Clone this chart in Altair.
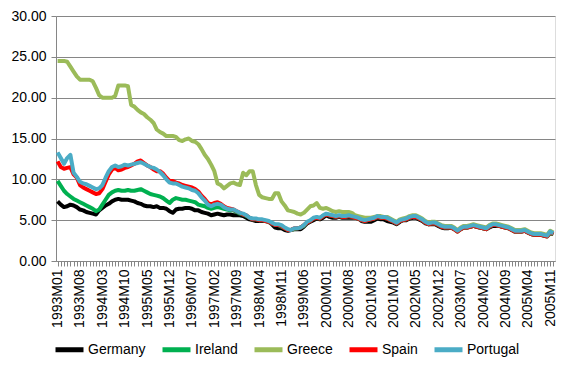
import altair as alt
import pandas as pd

months = [f"{y}M{m:02d}" for y in range(1993, 2006) for m in range(1, 13)]

germany = [
    7.3, 6.9, 6.6, 6.7, 6.9, 6.8, 6.6, 6.3, 6.2, 6.0, 5.9, 5.8,
    5.7, 6.2, 6.5, 6.8, 7.0, 7.3, 7.5, 7.6, 7.5, 7.5, 7.5, 7.4,
    7.3, 7.1, 7.0, 6.8, 6.7, 6.7, 6.6, 6.7, 6.5, 6.5, 6.4, 6.1,
    5.9, 6.3, 6.4, 6.4, 6.5, 6.5, 6.4, 6.2, 6.2, 6.0, 5.9, 5.8,
    5.6, 5.7, 5.8, 5.7, 5.6, 5.7, 5.7, 5.6, 5.6, 5.6, 5.5, 5.3,
    5.1, 5.0, 4.9, 4.9, 4.9, 4.9, 4.8, 4.5, 4.1, 4.0, 4.0, 3.8,
    3.7, 3.8, 3.9, 3.9, 3.9, 4.2, 4.6, 4.8, 5.0, 5.2, 5.1, 5.3,
    5.6, 5.4, 5.3, 5.3, 5.4, 5.3, 5.3, 5.3, 5.3, 5.3, 5.2, 4.9,
    4.8, 4.8, 4.8, 5.0, 5.2, 5.1, 5.1, 4.9, 4.8, 4.7, 4.5, 4.8,
    5.0, 5.0, 5.2, 5.3, 5.3, 5.1, 4.9, 4.6, 4.5, 4.5, 4.5, 4.3,
    4.1, 4.0, 4.0, 4.1, 3.9, 3.7, 3.9, 4.1, 4.1, 4.2, 4.3, 4.2,
    4.1, 4.0, 3.9, 4.1, 4.3, 4.3, 4.3, 4.2, 4.1, 4.0, 3.8, 3.6,
    3.6, 3.6, 3.7, 3.5, 3.3, 3.2, 3.2, 3.2, 3.1, 3.1, 3.4, 3.3,
]
ireland = [
    9.8, 9.2, 8.6, 8.2, 7.9, 7.6, 7.4, 7.2, 7.0, 6.8, 6.6, 6.4,
    6.1, 6.3, 6.9, 7.5, 8.1, 8.4, 8.6, 8.7, 8.6, 8.6, 8.7, 8.6,
    8.6, 8.7, 8.8, 8.6, 8.4, 8.2, 8.1, 8.0, 7.9, 7.7, 7.4, 7.1,
    7.5, 7.7, 7.6, 7.5, 7.5, 7.4, 7.3, 7.2, 6.9, 6.8, 6.7, 6.5,
    6.4, 6.5, 6.6, 6.5, 6.4, 6.3, 6.2, 6.2, 6.0, 5.8, 5.7, 5.5,
    5.3, 5.1, 5.1, 5.0, 5.0, 4.9, 4.8, 4.6, 4.4, 4.4, 4.2, 4.0,
    3.8, 3.8, 3.9, 4.0, 4.1, 4.3, 4.7, 4.9, 5.2, 5.3, 5.2, 5.5,
    5.7, 5.6, 5.5, 5.4, 5.5, 5.4, 5.4, 5.5, 5.4, 5.3, 5.2, 5.0,
    4.9, 5.0, 5.1, 5.2, 5.4, 5.3, 5.3, 5.2, 5.0, 4.8, 4.6, 4.9,
    5.0, 5.1, 5.3, 5.4, 5.4, 5.2, 5.0, 4.7, 4.5, 4.6, 4.6, 4.4,
    4.2, 4.1, 4.1, 4.1, 3.9, 3.6, 3.9, 4.1, 4.1, 4.2, 4.3, 4.2,
    4.1, 4.0, 3.9, 4.2, 4.4, 4.4, 4.3, 4.2, 4.1, 4.0, 3.8, 3.6,
    3.6, 3.6, 3.7, 3.5, 3.3, 3.2, 3.2, 3.2, 3.1, 3.0, 3.4, 3.3,
]
greece = [
    24.5, 24.5, 24.5, 24.4, 23.8, 23.2, 22.6, 22.2, 22.2, 22.2, 22.2, 22.0,
    21.2, 20.3, 20.0, 20.0, 20.0, 20.0, 20.2, 21.5, 21.5, 21.5, 21.4, 19.1,
    18.9, 18.5, 18.2, 18.0, 17.6, 17.3, 16.9, 16.1, 15.8, 15.6, 15.3, 15.3,
    15.3, 15.2, 14.8, 14.7, 14.9, 15.0, 14.7, 14.6, 14.3, 13.7, 13.0, 12.5,
    11.8, 11.0, 9.5, 9.3, 8.9, 9.2, 9.5, 9.6, 9.4, 9.3, 10.8, 10.5,
    11.0, 11.0, 9.3, 8.1, 7.8, 7.7, 7.6, 7.6, 8.3, 8.3, 7.3, 6.8,
    6.2, 6.1, 6.0, 5.8, 5.7, 5.9, 6.3, 6.7, 6.8, 7.1, 6.5, 6.4,
    6.5, 6.3, 6.1, 6.0, 6.1, 6.0, 6.0, 6.0, 5.9, 5.6, 5.5, 5.4,
    5.3, 5.3, 5.3, 5.4, 5.5, 5.5, 5.4, 5.4, 5.2, 5.0, 4.8, 5.1,
    5.2, 5.3, 5.5, 5.6, 5.6, 5.4, 5.2, 4.9, 4.7, 4.8, 4.8, 4.6,
    4.4, 4.3, 4.3, 4.3, 4.1, 3.8, 4.1, 4.3, 4.3, 4.4, 4.5, 4.4,
    4.3, 4.2, 4.1, 4.4, 4.6, 4.6, 4.5, 4.4, 4.3, 4.2, 4.0, 3.8,
    3.8, 3.8, 3.9, 3.7, 3.5, 3.4, 3.4, 3.4, 3.3, 3.2, 3.7, 3.5,
]
spain = [
    12.2, 11.5, 11.3, 11.4, 11.5, 10.6, 10.2, 9.3, 9.0, 8.8, 8.6, 8.4,
    8.2, 8.3, 8.8, 9.7, 10.6, 11.2, 11.4, 11.1, 11.2, 11.4, 11.5, 11.7,
    11.9, 12.2, 12.3, 12.0, 11.7, 11.5, 11.2, 11.0, 11.0, 10.7, 10.2, 9.8,
    9.8, 9.6, 9.5, 9.3, 9.2, 9.1, 9.0, 8.8, 8.5, 8.0, 7.6, 7.1,
    6.9, 7.1, 7.2, 7.0, 6.7, 6.5, 6.4, 6.3, 6.1, 5.9, 5.7, 5.6,
    5.3, 5.1, 5.1, 5.0, 5.0, 4.9, 4.8, 4.6, 4.4, 4.4, 4.3, 4.0,
    3.8, 3.8, 4.0, 4.0, 4.1, 4.4, 4.7, 4.9, 5.2, 5.3, 5.2, 5.5,
    5.7, 5.6, 5.5, 5.4, 5.5, 5.4, 5.4, 5.5, 5.4, 5.3, 5.2, 5.0,
    4.9, 5.0, 5.1, 5.2, 5.4, 5.3, 5.3, 5.2, 5.0, 4.8, 4.6, 4.9,
    5.0, 5.1, 5.3, 5.4, 5.4, 5.2, 5.0, 4.7, 4.5, 4.6, 4.6, 4.4,
    4.2, 4.1, 4.1, 4.1, 3.9, 3.6, 3.9, 4.1, 4.1, 4.2, 4.3, 4.2,
    4.1, 4.0, 3.9, 4.2, 4.4, 4.4, 4.3, 4.2, 4.1, 4.0, 3.8, 3.6,
    3.6, 3.6, 3.7, 3.5, 3.3, 3.2, 3.2, 3.2, 3.1, 3.0, 3.5, 3.3,
]
portugal = [
    13.3, 12.6, 11.9, 12.6, 13.0, 10.8, 10.3, 9.7, 9.5, 9.4, 9.2, 9.0,
    8.8, 8.9, 9.3, 10.2, 11.0, 11.5, 11.7, 11.5, 11.6, 11.8, 11.7, 11.8,
    11.9, 12.0, 12.1, 11.9, 11.7, 11.5, 11.4, 11.2, 10.9, 10.5, 10.0, 9.6,
    9.5, 9.5, 9.3, 9.1, 9.0, 8.9, 8.7, 8.6, 8.3, 7.8, 7.4, 6.9,
    6.7, 6.9, 7.0, 6.9, 6.6, 6.4, 6.3, 6.3, 6.1, 5.9, 5.8, 5.6,
    5.3, 5.2, 5.2, 5.1, 5.1, 5.0, 4.9, 4.7, 4.5, 4.5, 4.4, 4.1,
    3.9, 3.8, 4.0, 4.0, 4.1, 4.4, 4.8, 5.0, 5.3, 5.4, 5.3, 5.6,
    5.8, 5.7, 5.6, 5.5, 5.6, 5.5, 5.5, 5.6, 5.5, 5.4, 5.3, 5.1,
    5.0, 5.1, 5.2, 5.3, 5.5, 5.4, 5.4, 5.3, 5.1, 4.9, 4.7, 5.0,
    5.1, 5.2, 5.4, 5.5, 5.5, 5.3, 5.1, 4.8, 4.6, 4.7, 4.7, 4.5,
    4.3, 4.2, 4.2, 4.2, 4.0, 3.7, 4.0, 4.2, 4.2, 4.3, 4.4, 4.3,
    4.2, 4.1, 4.0, 4.3, 4.5, 4.5, 4.4, 4.3, 4.2, 4.1, 3.9, 3.7,
    3.7, 3.7, 3.8, 3.6, 3.4, 3.3, 3.3, 3.3, 3.2, 3.1, 3.6, 3.4,
]

countries = ["Germany", "Ireland", "Greece", "Spain", "Portugal"]
colors = ["#000000", "#00B050", "#9BBB59", "#FF0000", "#4BACC6"]
series = [germany, ireland, greece, spain, portugal]

rows = []
for ci, (name, vals) in enumerate(zip(countries, series)):
    for m, v in zip(months, vals):
        rows.append({"month": m, "value": v, "country": name, "order": ci})
df = pd.DataFrame(rows)

FONT = "Liberation Sans"
label_expr = ("((toNumber(substring(datum.value,0,4))-1993)*12 + "
              "toNumber(substring(datum.value,5,7)) - 1) % 7 == 0 ? datum.value : ''")

chart = alt.Chart(df).mark_line(strokeWidth=4, strokeJoin="round").encode(
    x=alt.X("month:O", sort=months, title=None,
            scale=alt.Scale(type="point", padding=0.5),
            axis=alt.Axis(labelExpr=label_expr, labelAngle=270, labelOverlap=False,
                          labelFontSize=14, labelFont=FONT, labelColor="#000000",
                          domainColor="#868686", tickColor="#868686", tickSize=5,
                          labelPadding=3, grid=False)),
    y=alt.Y("value:Q", title=None,
            scale=alt.Scale(domain=[0, 30], nice=False),
            axis=alt.Axis(values=[0, 5, 10, 15, 20, 25, 30], format=".2f",
                          labelFontSize=14, labelFont=FONT, labelColor="#000000",
                          domainColor="#868686", tickColor="#868686", tickSize=5,
                          gridColor="#868686", gridWidth=1, labelPadding=5)),
    color=alt.Color("country:N", sort=countries,
                    scale=alt.Scale(domain=countries, range=colors),
                    legend=alt.Legend(title=None, orient="none", direction="horizontal",
                                      legendX=-3, legendY=317,
                                      symbolType="stroke", symbolStrokeWidth=5,
                                      symbolSize=784, labelFontSize=14, labelFont=FONT,
                                      labelColor="#000000", columnPadding=6,
                                      labelOffset=2)),
    order=alt.Order("order:Q"),
    detail="country:N",
).properties(
    width=499, height=245,
    autosize=alt.AutoSizeParams(type="none"),
    padding={"left": 48, "top": 8, "right": 4, "bottom": 103},
).configure_view(stroke=None).configure(background="white")

chart.save("out.html", embed_options={"renderer": "svg", "actions": False})
